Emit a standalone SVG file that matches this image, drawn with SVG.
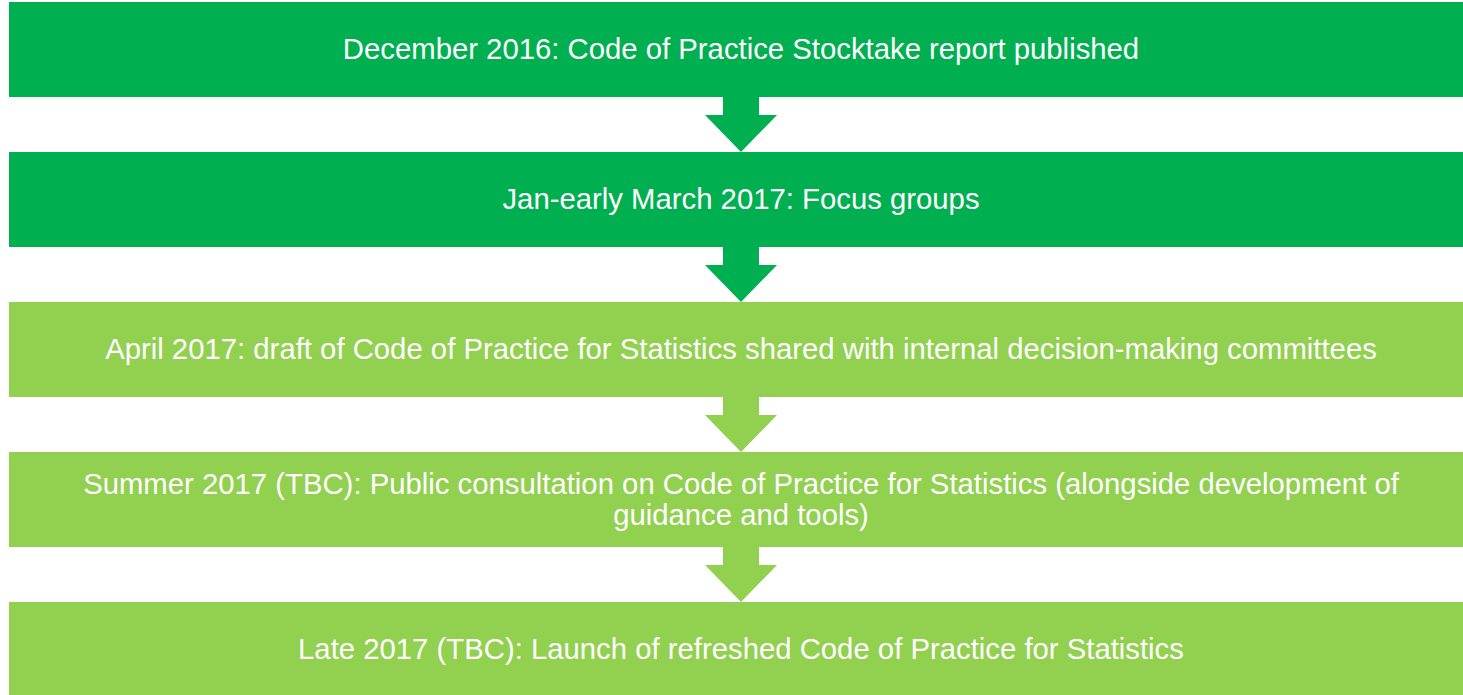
<svg xmlns="http://www.w3.org/2000/svg" width="1463" height="695" viewBox="0 0 1463 695">
<style>
.dark{fill:#00B050}
.light{fill:#92D050}
text{font-family:"Liberation Sans",Arial,sans-serif;font-size:29.3px;fill:#FFFFFF;text-anchor:middle}
</style>
<defs>
<path id="arr" d="M723,97 H759 V115 H777 L741,152 L705,115 H723 Z"/>
</defs>
<rect width="1463" height="695" fill="#FFFFFF"/>
<g id="connectors">
<use href="#arr" class="dark"/>
<use href="#arr" class="dark" transform="translate(0,150)"/>
<use href="#arr" class="light" transform="translate(0,300)"/>
<use href="#arr" class="light" transform="translate(0,450)"/>
</g>
<g id="n1"><rect class="dark" x="9" y="2" width="1464" height="95"/><text x="741" y="59">December 2016: Code of Practice Stocktake report published</text></g>
<g id="n2"><rect class="dark" x="9" y="152" width="1464" height="95"/><text x="741" y="209">Jan-early March 2017: Focus groups</text></g>
<g id="n3"><rect class="light" x="9" y="302" width="1464" height="95"/><text x="741" y="359">April 2017: draft of Code of Practice for Statistics shared with internal decision-making committees</text></g>
<g id="n4"><rect class="light" x="9" y="452" width="1464" height="95"/><text x="741" y="494">Summer 2017 (TBC): Public consultation on Code of Practice for Statistics (alongside development of</text><text x="741" y="524.5">guidance and tools)</text></g>
<g id="n5"><rect class="light" x="9" y="602" width="1464" height="95"/><text x="741" y="659">Late 2017 (TBC): Launch of refreshed Code of Practice for Statistics</text></g>
</svg>
